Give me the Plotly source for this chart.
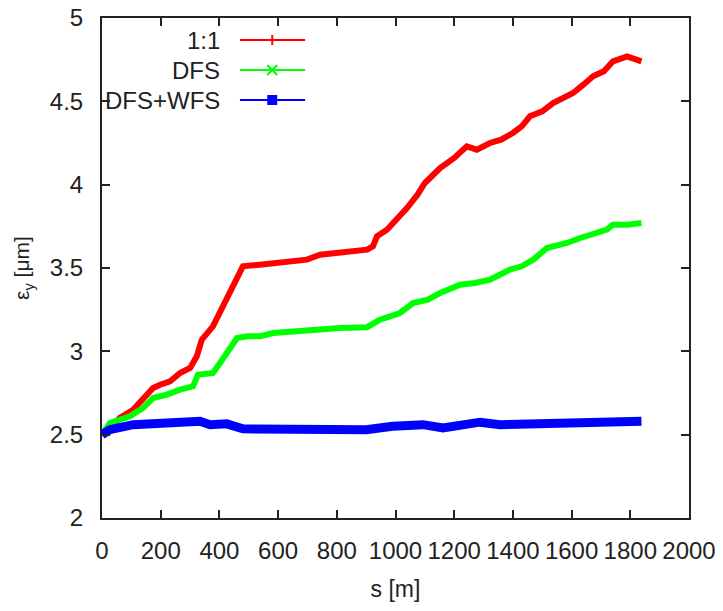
import plotly.graph_objects as go

# ---- data ----
s_11 = [0, 17, 61, 106, 140, 174, 198, 232, 266, 300, 323, 340, 378, 412, 436, 460, 480, 538,
        583, 640, 698, 743, 811, 903, 923, 937, 971, 1005, 1039, 1075, 1100, 1152, 1200, 1243,
        1277, 1322, 1360, 1400, 1430, 1458, 1500, 1537, 1570, 1605, 1640, 1673, 1710, 1741, 1789, 1838]
eps_11 = [2.50, 2.53, 2.60, 2.65, 2.72, 2.78, 2.80, 2.82, 2.87, 2.90, 2.97, 3.07, 3.15, 3.27, 3.35, 3.45, 3.51, 3.52,
          3.53, 3.54, 3.55, 3.58, 3.59, 3.61, 3.63, 3.69, 3.73, 3.79, 3.86, 3.94, 4.01, 4.10, 4.16, 4.23,
          4.21, 4.25, 4.27, 4.31, 4.35, 4.41, 4.44, 4.49, 4.52, 4.55, 4.60, 4.65, 4.68, 4.74, 4.77, 4.74]

s_dfs = [0, 27, 95, 140, 174, 221, 266, 310, 327, 378, 402, 436, 460, 494, 538, 583, 650, 719,
         811, 903, 947, 1015, 1060, 1110, 1152, 1220, 1270, 1322, 1390, 1430, 1469, 1516, 1584,
         1630, 1663, 1720, 1741, 1790, 1838]
eps_dfs = [2.50, 2.57, 2.61, 2.66, 2.72, 2.74, 2.77, 2.79, 2.86, 2.87, 2.93, 3.01, 3.08, 3.09, 3.09, 3.11, 3.12, 3.13,
           3.14, 3.145, 3.19, 3.23, 3.29, 3.31, 3.35, 3.40, 3.41, 3.43, 3.49, 3.51, 3.55, 3.62, 3.65,
           3.68, 3.70, 3.73, 3.76, 3.76, 3.77]

s_wfs = [0, 27, 106, 221, 300, 334, 368, 425, 480, 600, 787, 900, 990, 1094, 1162, 1288, 1356,
         1450, 1550, 1720, 1775, 1838]
eps_wfs = [2.50, 2.53, 2.56, 2.565, 2.575, 2.58, 2.56, 2.565, 2.535, 2.535, 2.535, 2.53, 2.55, 2.56, 2.54, 2.575, 2.56,
           2.565, 2.57, 2.57, 2.58, 2.58]

series_names = ["1:1", "DFS", "DFS+WFS"]
series_colors = ["#ff0000", "#00ff00", "#0000ff"]
series_widths = [6, 6, 9]

x_ticks = [0, 200, 400, 600, 800, 1000, 1200, 1400, 1600, 1800, 2000]
y_ticks = [2, 2.5, 3, 3.5, 4, 4.5, 5]
y_ticklabels = ["2", "2.5", "3", "3.5", "4", "4.5", "5"]

FONT = "Liberation Sans, Arial, Helvetica, sans-serif"

fig = go.Figure()
for xs, ys, name, col, w in zip([s_11, s_dfs, s_wfs], [eps_11, eps_dfs, eps_wfs],
                                series_names, series_colors, series_widths):
    fig.add_trace(go.Scatter(x=xs, y=ys, mode="lines", name=name,
                             line=dict(color=col, width=w), showlegend=False))

# ---- manual gnuplot-style legend (text right-aligned, sample to the right) ----
rows = [0.956, 0.896, 0.836]
for name, col, yy in zip(series_names, series_colors, rows):
    fig.add_annotation(x=0.204, y=yy, xref="paper", yref="paper", text=name, showarrow=False,
                       xanchor="right", yanchor="middle", font=dict(family=FONT, size=24, color="#222"))
    fig.add_shape(type="line", xref="paper", yref="paper", x0=0.235, x1=0.346, y0=yy, y1=yy,
                  line=dict(color=col, width=2))
# legend markers
dx, dy = 0.0085, 0.010
fig.add_shape(type="line", xref="paper", yref="paper", x0=0.290 - dx, x1=0.290 + dx, y0=rows[0], y1=rows[0],
              line=dict(color=series_colors[0], width=2))
fig.add_shape(type="line", xref="paper", yref="paper", x0=0.290, x1=0.290, y0=rows[0] - dy, y1=rows[0] + dy,
              line=dict(color=series_colors[0], width=2))
fig.add_shape(type="line", xref="paper", yref="paper", x0=0.290 - dx, x1=0.290 + dx, y0=rows[1] - dy, y1=rows[1] + dy,
              line=dict(color=series_colors[1], width=2))
fig.add_shape(type="line", xref="paper", yref="paper", x0=0.290 - dx, x1=0.290 + dx, y0=rows[1] + dy, y1=rows[1] - dy,
              line=dict(color=series_colors[1], width=2))
fig.add_shape(type="rect", xref="paper", yref="paper", x0=0.290 - dx, x1=0.290 + dx, y0=rows[2] - dy, y1=rows[2] + dy,
              line=dict(color=series_colors[2], width=0), fillcolor=series_colors[2])

axis_common = dict(showgrid=False, zeroline=False, showline=True, linecolor="#222", linewidth=2,
                   mirror="ticks", ticks="inside", ticklen=8, tickwidth=2, tickcolor="#222",
                   automargin=False,
                   tickfont=dict(family=FONT, size=24, color="#222"))

fig.update_xaxes(range=[0, 2000], tickvals=x_ticks, ticktext=[str(v) for v in x_ticks],
                 title=dict(text="s [m]", font=dict(family=FONT, size=23, color="#222"), standoff=18),
                 ticklabelstandoff=10, **axis_common)
fig.update_yaxes(range=[2, 5], tickvals=y_ticks, ticktext=y_ticklabels,
                 title=dict(text="ε<sub>y</sub> [μm]", font=dict(family=FONT, size=21, color="#222"), standoff=14),
                 ticklabelstandoff=12, **axis_common)

fig.update_layout(width=723, height=611, margin=dict(l=102, r=34, t=18, b=93, pad=0),
                  plot_bgcolor="white", paper_bgcolor="white", showlegend=False)

fig.write_html("out.html")
